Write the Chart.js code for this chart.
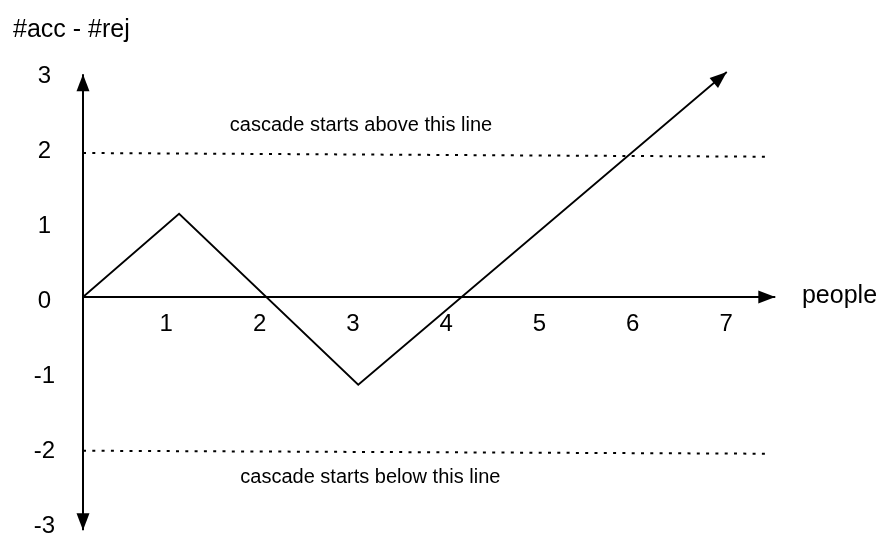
<!DOCTYPE html>
<html>
<head>
<meta charset="utf-8">
<title>#acc - #rej</title>
<script src="https://cdn.jsdelivr.net/npm/chart.js@4.4.1/dist/chart.umd.min.js"></script>
<style>
  html, body { margin: 0; padding: 0; background: #fff; }
  canvas { display: block; }
</style>
</head>
<body>
<canvas id="grafico" width="880" height="536"></canvas>
<script>
// etichette degli assi
const peopleTicks = [1, 2, 3, 4, 5, 6, 7];
const diffTicks = [-3, -2, -1, 0, 1, 2, 3];

// percorso #acc - #rej (vertici)
const walkX = [0, 1.03, 2.95, 6.90];
const walkY = [0, 1.11, -1.17, 3.0];

// assi con le frecce
const axisX = [0, 7.42];
const axisY = [-3.11, 2.97];

// soglie tratteggiate (nel disegno sono un po' inclinate)
const thresholdX = [0, 7.36];
const upperY = [1.92, 1.87];
const lowerY = [-2.05, -2.09];

const FONT = '"Liberation Sans", Arial, Helvetica, sans-serif';
Chart.defaults.font.family = FONT;
Chart.defaults.color = '#000';

const toPoints = (xs, ys) => xs.map((x, i) => ({ x, y: ys[i] }));

// punta di freccia piena, con la punta sul punto "to"
function drawHead(ctx, from, to) {
    const a = Math.atan2(to.y - from.y, to.x - from.x);
    ctx.save();
    ctx.translate(to.x, to.y);
    ctx.rotate(a);
    ctx.beginPath();
    ctx.moveTo(0, 0);
    ctx.lineTo(-17, -6.5);
    ctx.lineTo(-17, 6.5);
    ctx.closePath();
    ctx.fillStyle = '#000';
    ctx.fill();
    ctx.restore();
}

const frecce = {
    id: 'frecce',
    afterDatasetsDraw(chart) {
        chart.data.datasets.forEach((ds, i) => {
            const pts = chart.getDatasetMeta(i).data;
            if (ds.arrowEnd) drawHead(chart.ctx, pts[pts.length - 2], pts[pts.length - 1]);
            if (ds.arrowStart) drawHead(chart.ctx, pts[1], pts[0]);
        });
    }
};

// testi liberi: titolo asse y, nome asse x, note sulle soglie
const testi = {
    id: 'testi',
    afterDraw(chart) {
        const { ctx, scales: { x, y } } = chart;
        ctx.save();
        ctx.fillStyle = '#000';
        ctx.textBaseline = 'alphabetic';
        ctx.textAlign = 'left';
        ctx.font = '25px ' + FONT;
        ctx.fillText('#acc - #rej', 13, 37);
        ctx.fillText('people', x.getPixelForValue(7.706), y.getPixelForValue(0) + 6);
        ctx.font = '20px ' + FONT;
        ctx.textAlign = 'center';
        ctx.fillText('cascade starts above this line', x.getPixelForValue(2.98), y.getPixelForValue(2.213));
        ctx.fillText('cascade starts below this line', x.getPixelForValue(3.08), y.getPixelForValue(-2.48));
        ctx.restore();
    }
};

const linea = (data, extra) => Object.assign({
    data,
    borderColor: '#000',
    borderWidth: 2,
    pointRadius: 0,
    tension: 0,
    fill: false
}, extra);

new Chart(document.getElementById('grafico'), {
    type: 'line',
    data: {
        datasets: [
            linea(toPoints(thresholdX, upperY), { borderWidth: 2, borderDash: [3, 6.3] }),
            linea(toPoints(thresholdX, lowerY), { borderWidth: 2, borderDash: [3, 6.3] }),
            linea(toPoints(axisX, [0, 0]), { arrowEnd: true }),
            linea(toPoints([0, 0], axisY), { arrowEnd: true, arrowStart: true }),
            linea(toPoints(walkX, walkY), { borderWidth: 1.8, arrowEnd: true })
        ]
    },
    options: {
        responsive: false,
        animation: false,
        layout: { padding: { left: 0, right: 4, top: 57, bottom: 3 } },
        plugins: {
            legend: { display: false },
            tooltip: { enabled: false }
        },
        scales: {
            x: {
                type: 'linear',
                min: -0.2465,
                max: 8.4995,
                position: { y: 0 },
                grid: { display: false, drawTicks: false },
                border: { display: false },
                afterBuildTicks: s => { s.ticks = peopleTicks.map(v => ({ value: v })); },
                afterFit: s => { s.paddingLeft = 0; s.paddingRight = 0; },
                ticks: { font: { size: 24 }, color: '#000', padding: 13, labelOffset: -10, maxRotation: 0, autoSkip: false }
            },
            y: {
                type: 'linear',
                min: -3.147,
                max: 3.2,
                grid: { display: false, drawTicks: false },
                border: { display: false },
                afterBuildTicks: s => { s.ticks = diffTicks.map(v => ({ value: v })); },
                afterFit: s => { s.width = 60; s.paddingTop = 0; s.paddingBottom = 0; },
                ticks: { font: { size: 24 }, color: '#000', padding: 5, crossAlign: 'center', labelOffset: 4, autoSkip: false }
            }
        }
    },
    plugins: [frecce, testi]
});
</script>
</body>
</html>
